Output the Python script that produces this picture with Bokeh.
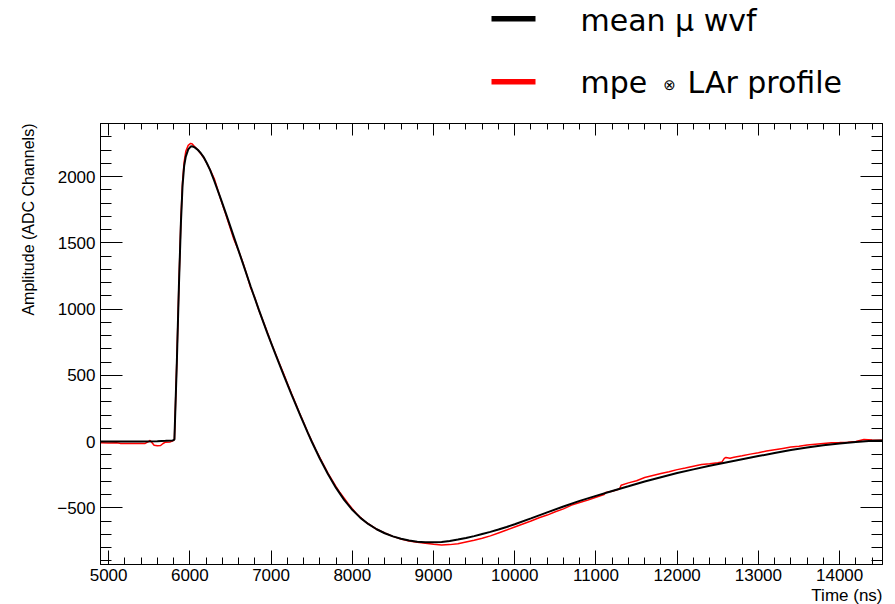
from bokeh.plotting import figure
from bokeh.layouts import column
from bokeh.models import (LinearAxis, SingleIntervalTicker, Range1d, Title, CustomJSTickFormatter)
from bokeh.core.properties import value
from bokeh.embed import file_html
from bokeh.resources import INLINE

# ---- data ----
mean_x = [4900, 5000, 5200, 5400, 5600, 5700, 5790, 5810, 5840, 5865, 5890, 5910, 5930, 5950,
          5980, 6010, 6030, 6060, 6100, 6140, 6174, 6210, 6250, 6300, 6379, 6450, 6543, 6650,
          6749, 6850, 6954, 7050, 7159, 7250, 7365, 7450, 7500, 7600, 7700, 7800, 7900, 8000,
          8100, 8200, 8300, 8400, 8500, 8600, 8700, 8800, 8900, 9000, 9100, 9200, 9300, 9400,
          9500, 9600, 9700, 9800, 9900, 10000, 10200, 10400, 10600, 10800, 11000, 11200,
          11400, 11600, 11800, 12000, 12200, 12400, 12600, 12800, 13000, 13200, 13400, 13600,
          13800, 14000, 14200, 14400, 14540]
mean_y = [0, 0, 0, 0, 2, 5, 8, 15, 600, 1165, 1650, 1930, 2080, 2150,
          2205, 2226, 2228, 2220, 2200, 2172, 2142, 2100, 2048, 1968, 1835, 1710, 1543, 1350,
          1170, 993, 818, 665, 495, 358, 190, 69, 0, -128, -245, -350, -440, -515,
          -576, -624, -662, -692, -716, -734, -747, -756, -760, -761, -758, -750, -740, -728,
          -714, -698, -682, -664, -645, -624, -580, -535, -490, -448, -410, -373,
          -338, -302, -270, -238, -210, -183, -158, -134, -110, -87, -64, -45,
          -28, -14, -3, 5, 8]

conv_x = [4900, 5000, 5100, 5150, 5300, 5450, 5490, 5510, 5530, 5560, 5600, 5640, 5670, 5700,
          5760, 5790, 5810, 5840, 5865, 5890, 5910, 5930, 5950, 5980, 6010, 6030, 6060, 6100,
          6140, 6174, 6210, 6250, 6300, 6379, 6450, 6500, 6543, 6600, 6650, 6700, 6749, 6800,
          6850, 6900, 6954, 7000, 7050, 7100, 7159, 7200, 7250, 7300, 7350, 7400, 7450, 7500,
          7550, 7600, 7650, 7700, 7750, 7800, 7850, 7900, 7950, 8000, 8050, 8100, 8150, 8200,
          8300, 8400, 8500, 8600, 8700, 8800, 8900, 9000, 9100, 9200, 9300, 9400, 9500, 9600,
          9700, 9800, 9900, 10000, 10100, 10200, 10300, 10400, 10500, 10600, 10700, 10800,
          10900, 11000, 11100, 11120, 11200, 11290, 11310, 11400, 11500, 11600, 11700, 11800,
          11900, 12000, 12100, 12200, 12300, 12400, 12500, 12550, 12580, 12600, 12650, 12700,
          12800, 12900, 13000, 13100, 13200, 13300, 13400, 13500, 13600, 13700, 13800, 13900,
          14000, 14100, 14200, 14300, 14400, 14540]
conv_y = [-10, -12, -10, -14, -15, -14, 0, 8, -5, -28, -32, -30, -15, -5,
          -3, 5, 15, 620, 1180, 1680, 1960, 2110, 2190, 2235, 2250, 2245, 2225, 2200,
          2168, 2140, 2098, 2050, 1985, 1830, 1700, 1605, 1525, 1440, 1355, 1260, 1160, 1085,
          990, 912, 825, 745, 670, 592, 505, 440, 365, 290, 215, 145, 72, 5,
          -60, -122, -180, -238, -290, -340, -387, -428, -470, -508, -543, -572, -600, -622,
          -662, -690, -716, -735, -750, -760, -768, -775, -780, -778, -772, -758, -745, -730,
          -712, -690, -668, -645, -622, -600, -575, -555, -530, -508, -480, -460,
          -442, -420, -400, -385, -375, -358, -330, -312, -296, -272, -256, -242,
          -228, -212, -200, -187, -174, -168, -160, -155, -127, -120, -126, -118,
          -108, -95, -85, -72, -62, -52, -42, -35, -27, -20, -15, -10,
          -8, -5, 0, 15, 12, 10]

x_tick_step = 1000
y_tick_step = 500
y_label_overrides = {-500: "\u2212500"}
legend_texts = ["mean \u03bc wvf", "mpe", "\u2297", "LAr profile"]
legend_colors = ["black", "#ff0000"]
x_title = "Time (ns)"
y_title = "Amplitude (ADC Channels)"

FONT = "Liberation Sans"
LEG_FONT = "DejaVu Sans"
W = 895
H_TOP = 105
FL, FR = 100, 882   # frame edges in page pixels

# ---------------- legend strip (page-pixel coordinates) ----------------
leg = figure(width=W, height=H_TOP, output_backend="svg", toolbar_location=None,
             x_range=Range1d(FL, FR), y_range=Range1d(H_TOP, 0),
             min_border_left=FL, min_border_right=W - FR, min_border_top=0, min_border_bottom=0,
             x_axis_location=None, y_axis_location=None)
leg.grid.visible = False
leg.outline_line_color = None
leg.background_fill_color = "white"
leg.border_fill_color = "white"

leg.quad(left=[491, 491], right=[535, 535], top=[15.5, 78.5], bottom=[21, 84],
         fill_color=legend_colors, line_color=None)
leg.text(x=[580, 580, 687], y=[20, 82, 82], text=[legend_texts[0], legend_texts[1], legend_texts[3]],
         text_font=value(LEG_FONT), text_font_size="30px", text_color="black",
         text_align="left", text_baseline="middle")
leg.text(x=[669], y=[84], text=[legend_texts[2]], text_font=value(LEG_FONT),
         text_font_size="15px", text_color="black", text_align="center", text_baseline="middle")

# ---------------- main plot ----------------
p = figure(width=W, height=604 - H_TOP, output_backend="svg", toolbar_location=None,
           x_range=Range1d(4900, 14528), y_range=Range1d(-928, 2400),
           min_border_left=FL, min_border_right=W - FR, min_border_top=123 - H_TOP,
           min_border_bottom=40, x_axis_location=None, y_axis_location=None)
p.grid.visible = False
p.outline_line_color = "black"
p.background_fill_color = "white"
p.border_fill_color = "white"

blank = CustomJSTickFormatter(code="return ''")


def style_axis(ax, major_in, minor_in, show_labels):
    ax.major_tick_in = major_in
    ax.major_tick_out = 0
    ax.minor_tick_in = minor_in
    ax.minor_tick_out = 0
    ax.axis_line_color = "black"
    ax.major_tick_line_color = "black"
    ax.minor_tick_line_color = "black"
    ax.major_label_text_font = FONT
    ax.major_label_text_color = "black"
    ax.major_label_text_font_size = "17px"
    if not show_labels:
        ax.formatter = blank
        ax.major_label_standoff = 0


xb = LinearAxis(ticker=SingleIntervalTicker(interval=x_tick_step, num_minor_ticks=5))
style_axis(xb, 14, 7, True)
xb.major_label_standoff = 4
p.add_layout(xb, "below")

xt = LinearAxis(ticker=SingleIntervalTicker(interval=x_tick_step, num_minor_ticks=5))
style_axis(xt, 12, 6, False)
p.add_layout(xt, "above")

yl = LinearAxis(ticker=SingleIntervalTicker(interval=y_tick_step, num_minor_ticks=5))
style_axis(yl, 22, 11, True)
yl.major_label_standoff = 5
yl.major_label_overrides = y_label_overrides
p.add_layout(yl, "left")

yr = LinearAxis(ticker=SingleIntervalTicker(interval=y_tick_step, num_minor_ticks=5))
style_axis(yr, 22, 11, False)
p.add_layout(yr, "right")

p.line(conv_x, conv_y, line_color=legend_colors[1], line_width=1.5)
p.line(mean_x, mean_y, line_color=legend_colors[0], line_width=2)

p.add_layout(Title(text=x_title, align="right", text_font=FONT, text_font_size="17px",
                   text_font_style="normal", text_color="black", standoff=0), "below")
p.add_layout(Title(text=y_title, align="right", text_font=FONT, text_font_size="16px",
                   text_font_style="normal", text_color="black", standoff=35), "left")

open("out.html", "w").write(file_html(column(leg, p, spacing=0), INLINE))
